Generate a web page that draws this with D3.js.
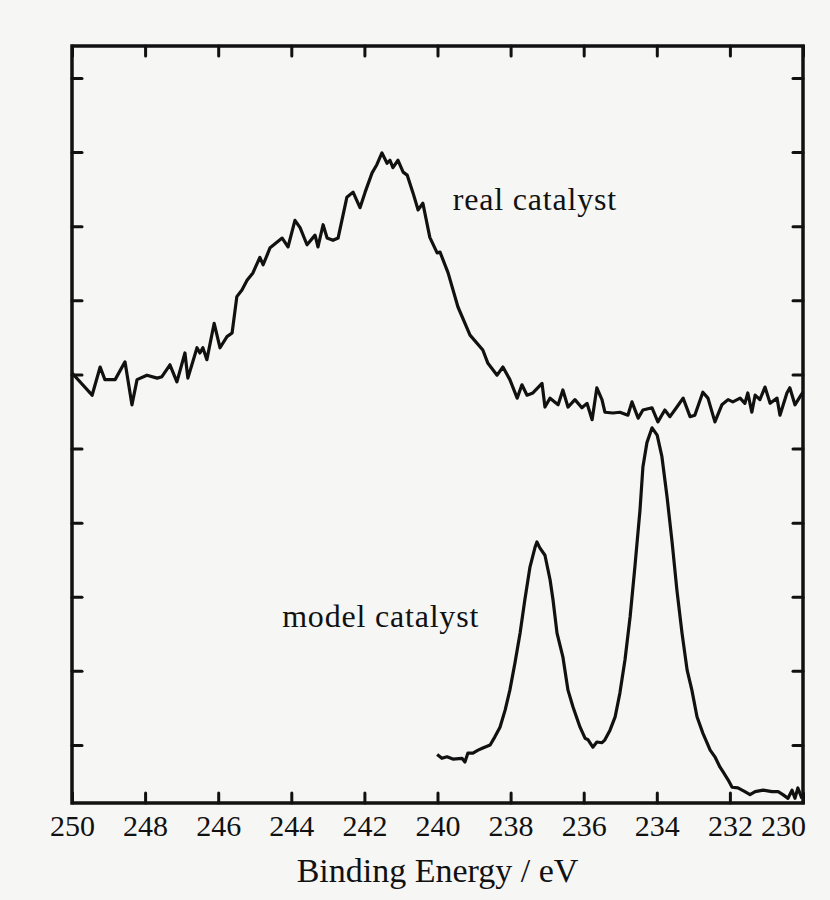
<!DOCTYPE html>
<html>
<head>
<meta charset="utf-8">
<script src="https://cdn.jsdelivr.net/npm/d3@7/dist/d3.min.js"></script>
<style>
  html, body { margin: 0; padding: 0; background: #f6f6f5; }
  svg { display: block; }
  text { font-family: "Liberation Serif", "Times New Roman", serif; fill: #111; }
</style>
</head>
<body>
<svg id="chart" width="830" height="900"></svg>
<script>
// ---- data (binding energy in eV, intensity in arbitrary counts) ----
const realEnergy = [250.00,249.45,249.23,249.10,248.82,248.55,248.36,248.22,247.95,247.67,247.54,247.32,247.13,246.91,246.83,246.58,246.50,246.42,246.31,246.11,245.95,245.76,245.62,245.49,245.35,245.21,245.05,244.86,244.77,244.58,244.25,244.09,243.90,243.76,243.57,243.35,243.27,243.13,243.02,242.86,242.72,242.48,242.31,242.12,241.98,241.79,241.66,241.52,241.38,241.30,241.22,241.08,240.94,240.83,240.67,240.53,240.40,240.21,240.01,239.93,239.71,239.44,239.11,238.76,238.62,238.37,238.21,238.02,237.82,237.69,237.55,237.39,237.14,237.06,236.92,236.70,236.57,236.43,236.24,236.05,235.91,235.77,235.64,235.50,235.42,235.20,235.01,234.79,234.68,234.51,234.38,234.13,233.97,233.78,233.64,233.45,233.28,233.09,232.96,232.74,232.60,232.41,232.22,232.05,231.92,231.72,231.59,231.51,231.40,231.31,231.18,231.04,230.90,230.71,230.63,230.44,230.36,230.22,230.08,230.00];
const realIntensity = [602,572,610,593,593,617,559,593,599,595,597,613,590,629,595,636,629,636,620,669,636,651,656,705,714,727,737,758,748,771,784,772,808,798,775,788,772,802,784,781,784,839,846,825,846,872,883,899,885,889,879,889,873,869,845,822,831,785,764,765,737,691,653,633,615,599,610,593,568,586,572,575,588,556,568,559,579,556,566,555,561,539,582,566,549,548,549,545,563,541,552,555,536,552,543,556,568,543,545,576,568,536,559,566,563,568,561,575,549,572,566,583,561,568,545,575,582,559,570,576];

const modelEnergy = [240.01,239.88,239.74,239.58,239.33,239.25,239.17,239.03,238.89,238.76,238.56,238.43,238.29,238.15,238.02,237.88,237.74,237.61,237.47,237.33,237.28,237.20,237.06,236.92,236.84,236.73,236.57,236.43,236.29,236.10,235.96,235.88,235.75,235.64,235.50,235.42,235.28,235.14,235.01,234.87,234.73,234.60,234.46,234.38,234.27,234.13,233.99,233.86,233.72,233.58,233.45,233.31,233.17,233.04,232.90,232.74,232.54,232.41,232.27,232.19,232.05,231.94,231.78,231.59,231.45,231.31,231.09,230.85,230.68,230.55,230.41,230.30,230.22,230.14,230.03];
const modelIntensity = [87,82,84,81,82,77,89,89,93,96,100,111,124,147,174,211,251,296,340,367,374,366,356,323,296,251,219,174,151,124,109,107,97,104,103,107,120,138,170,215,273,340,417,475,508,528,518,489,435,373,309,251,201,174,138,116,93,84,70,64,53,43,42,37,33,37,39,37,37,33,28,39,28,42,28];

const xTicks = [250,248,246,244,242,240,238,236,234,232,230];
const yTicks = [100,200,300,400,500,600,700,800,900,1000];

const seriesLabels = ["real catalyst", "model catalyst"];
const labelEnergy = [239.58, 244.25];
const labelIntensity = [822, 259];

const xTitle = "Binding Energy / eV";

// ---- layout ----
const W = 830, H = 900;
const margin = {top: 46, right: 27, bottom: 97, left: 72};
const svg = d3.select("#chart");

const x = d3.scaleLinear().domain([250, 230]).range([margin.left, W - margin.right]);
const y = d3.scaleLinear().domain([21.7, 1043.2]).range([H - margin.bottom, margin.top]);

const tickLen = 10;

// axes (ticks inward on all four sides)
const gBottom = svg.append("g").attr("transform", `translate(0,${H - margin.bottom})`)
  .call(d3.axisBottom(x).tickValues(xTicks).tickSize(-tickLen).tickPadding(12).tickFormat(d3.format("d")));
const gTop = svg.append("g").attr("transform", `translate(0,${margin.top})`)
  .call(d3.axisTop(x).tickValues(xTicks).tickSize(-tickLen).tickFormat(""));
const gLeft = svg.append("g").attr("transform", `translate(${margin.left},0)`)
  .call(d3.axisLeft(y).tickValues(yTicks).tickSize(-tickLen).tickFormat(""));
const gRight = svg.append("g").attr("transform", `translate(${W - margin.right},0)`)
  .call(d3.axisRight(y).tickValues(yTicks).tickSize(-tickLen).tickFormat(""));

[gBottom, gTop, gLeft, gRight].forEach(g => {
  g.select(".domain").remove();
  g.selectAll(".tick line").attr("stroke", "#111").attr("stroke-width", 3).attr("stroke-linecap", "round");
});
gBottom.selectAll(".tick text")
  .attr("font-size", 30)
  .attr("font-family", "Liberation Serif, serif")
  .attr("fill", "#111")
  .attr("x", d => d === 230 ? -20 : 0);

// frame
svg.append("rect")
  .attr("x", margin.left).attr("y", margin.top)
  .attr("width", W - margin.left - margin.right)
  .attr("height", H - margin.top - margin.bottom)
  .attr("fill", "none").attr("stroke", "#111").attr("stroke-width", 3.5);

// lines
const line = d3.line().x(d => x(d[0])).y(d => y(d[1])).curve(d3.curveLinear);
const realData = realEnergy.map((e, i) => [e, realIntensity[i]]);
const modelData = modelEnergy.map((e, i) => [e, modelIntensity[i]]);

[realData, modelData].forEach(data => {
  svg.append("path").datum(data)
    .attr("d", line)
    .attr("fill", "none")
    .attr("stroke", "#111")
    .attr("stroke-width", 3.2)
    .attr("stroke-linejoin", "round");
});

// series annotations
seriesLabels.forEach((t, i) => {
  svg.append("text")
    .attr("x", x(labelEnergy[i]))
    .attr("y", y(labelIntensity[i]))
    .attr("font-size", 32)
    .attr("letter-spacing", 0.8)
    .text(t);
});

// x title
svg.append("text")
  .attr("x", (margin.left + W - margin.right) / 2)
  .attr("y", 882)
  .attr("text-anchor", "middle")
  .attr("font-size", 34)
  .text(xTitle);
</script>
</body>
</html>
